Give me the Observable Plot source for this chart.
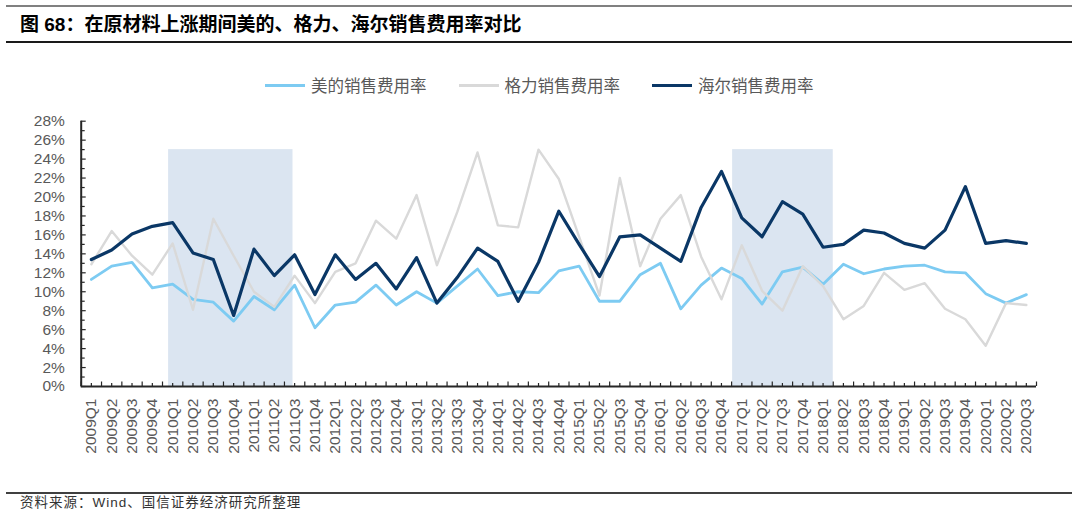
<!DOCTYPE html>
<html>
<head>
<meta charset="utf-8">
<script src="https://cdn.jsdelivr.net/npm/d3@7"></script>
<script src="https://cdn.jsdelivr.net/npm/@observablehq/plot@0.6"></script>
<style>
  html, body { margin: 0; padding: 0; background: #fff; }
  #wrap { position: relative; width: 1080px; height: 516px; overflow: hidden; background: #fff; }
  .abs { position: absolute; }
  #title { left: 20px; top: 13px; font-family: "Liberation Sans", "Noto Sans CJK SC", sans-serif; font-weight: bold; font-size: 19px; line-height: 24px; color: #000; white-space: nowrap; }
  #legend { left: 265px; top: 74px; height: 22px; display: flex; align-items: center; font-family: "Noto Sans CJK SC", sans-serif; font-size: 16.5px; line-height: 22px; color: #595959; white-space: nowrap; }
  .item { display: flex; align-items: center; margin-right: 32px; }
  .swatch { width: 40px; height: 3px; margin-right: 6px; }
  #chart { left: 0; top: 100px; }
  #footer { left: 20px; top: 495px; font-family: "Liberation Sans", "Noto Sans CJK SC", sans-serif; font-size: 13.5px; letter-spacing: 1px; line-height: 16px; color: #333; white-space: nowrap; }
</style>
</head>
<body>
<div id="wrap">
  <div class="abs" style="left:6px;top:5px;width:1066px;height:2px;background:#808080"></div>
  <div id="title" class="abs">图 68：在原材料上涨期间美的、格力、海尔销售费用率对比</div>
  <div class="abs" style="left:6px;top:41px;width:1066px;height:1.5px;background:#1a1a1a"></div>
  <div id="legend" class="abs"></div>
  <div id="chart" class="abs"></div>
  <div class="abs" style="left:6px;top:492px;width:1066px;height:1.5px;background:#404040"></div>
  <div id="footer" class="abs">资料来源：Wind、国信证券经济研究所整理</div>
</div>
<script>
const quarters = [
  "2009Q1","2009Q2","2009Q3","2009Q4",
  "2010Q1","2010Q2","2010Q3","2010Q4",
  "2011Q1","2011Q2","2011Q3","2011Q4",
  "2012Q1","2012Q2","2012Q3","2012Q4",
  "2013Q1","2013Q2","2013Q3","2013Q4",
  "2014Q1","2014Q2","2014Q3","2014Q4",
  "2015Q1","2015Q2","2015Q3","2015Q4",
  "2016Q1","2016Q2","2016Q3","2016Q4",
  "2017Q1","2017Q2","2017Q3","2017Q4",
  "2018Q1","2018Q2","2018Q3","2018Q4",
  "2019Q1","2019Q2","2019Q3","2019Q4",
  "2020Q1","2020Q2","2020Q3"
];
const seriesNames = ["美的销售费用率", "格力销售费用率", "海尔销售费用率"];
const seriesColors = ["#7DCBF2", "#D9D9D9", "#0A3766"];
// 美的
const midea = [11.3,12.7,13.1,10.4,10.8,9.2,8.9,6.9,9.5,8.1,10.7,6.2,8.6,8.9,10.7,8.6,10.0,8.8,10.6,12.4,9.6,10.0,9.9,12.2,12.7,9.0,9.0,11.8,13.0,8.2,10.7,12.5,11.4,8.7,12.1,12.6,10.8,12.9,11.9,12.4,12.7,12.8,12.1,12.0,9.8,8.8,9.7];
// 格力
const gree = [12.9,16.4,13.8,11.8,15.1,8.1,17.7,13.8,10.0,8.4,11.7,8.8,12.1,13.0,17.5,15.6,20.2,12.8,18.4,24.7,17.0,16.8,25.0,21.9,15.8,9.6,22.0,12.7,17.7,20.2,13.7,9.2,14.9,10.1,8.0,12.7,10.6,7.1,8.5,12.0,10.2,10.9,8.2,7.1,4.3,8.8,8.6];
// 海尔
const haier = [13.4,14.4,16.1,16.9,17.3,14.1,13.4,7.5,14.5,11.7,13.9,9.7,13.9,11.3,13.0,10.3,13.6,8.8,11.5,14.6,13.2,9.0,13.1,18.5,15.0,11.6,15.8,16.0,14.6,13.2,18.9,22.7,17.8,15.8,19.5,18.2,14.7,15.0,16.5,16.2,15.1,14.6,16.5,21.1,15.1,15.4,15.1];
// 原材料上涨期间
const shadeFrom = ["2010Q1", "2017Q1"];
const shadeTo = ["2011Q3", "2018Q1"];
const shadeTop = 25;
const yTickValues = [0,2,4,6,8,10,12,14,16,18,20,22,24,26,28];

const idx = q => quarters.indexOf(q);
const rows = quarters.map((q, i) => ({i, q, midea: midea[i], gree: gree[i], haier: haier[i]}));
const padL = [0.2, 0.45], padR = [-0.08, 0.5];
const shades = shadeFrom.map((f, k) => ({x1: idx(f) - padL[k], x2: idx(shadeTo[k]) + padR[k]}));

const n = quarters.length;
const x0 = -0.5, xN = n - 0.5;
const marginLeft = 80.7, marginRight = 44, marginTop = 20.7, marginBottom = 75, height = 361;
const pxPerX = (1080 - marginLeft - marginRight) / n;
const pxPerY = (height - marginTop - marginBottom) / 28;

const xTicks = d3.range(0, n + 0.01, 0.5).map(v => v - 0.5);
const yMinor = d3.range(0, 29, 1);

// legend
const legend = document.getElementById("legend");
seriesNames.forEach((name, k) => {
  const it = document.createElement("div");
  it.className = "item";
  it.innerHTML = `<div class="swatch" style="background:${seriesColors[k]}"></div><span>${name}</span>`;
  legend.appendChild(it);
});

const chart = Plot.plot({
  width: 1080,
  height,
  marginLeft, marginRight, marginTop, marginBottom,
  style: {fontFamily: "'Liberation Sans', Arial, sans-serif", fontSize: "15.5px", color: "#595959", background: "transparent"},
  x: {type: "linear", domain: [x0, xN], ticks: d3.range(n), tickFormat: i => quarters[i], tickRotate: -90, tickSize: 0, tickPadding: 12, label: null},
  y: {domain: [0, 28], ticks: yTickValues, tickFormat: d => d + "%", tickSize: 0, tickPadding: 16.4, label: null},
  marks: [
    Plot.rect(shades, {x1: "x1", x2: "x2", y1: 0, y2: shadeTop, fill: "#DBE5F1"}),
    Plot.lineY(rows, {x: "i", y: "midea", stroke: seriesColors[0], strokeWidth: 2.8}),
    Plot.lineY(rows, {x: "i", y: "gree", stroke: seriesColors[1], strokeWidth: 2.4}),
    Plot.lineY(rows, {x: "i", y: "haier", stroke: seriesColors[2], strokeWidth: 3.2}),
    Plot.ruleX(xTicks, {x: d => d, y1: 0, y2: d => (Number.isInteger(d) ? 3 : 4.5) / pxPerY, stroke: "#262626", strokeWidth: 1.2}),
    Plot.ruleY(yMinor, {y: d => d, x1: x0, x2: d => x0 + (d % 2 === 0 ? 5 : 4) / pxPerX, stroke: "#262626", strokeWidth: 1.2}),
    Plot.ruleX([x0], {y1: 0, y2: 28, stroke: "#262626", strokeWidth: 2}),
    Plot.ruleY([0], {x1: x0, x2: xN, stroke: "#262626", strokeWidth: 2})
  ]
});
document.getElementById("chart").appendChild(chart);
</script>
</body>
</html>
